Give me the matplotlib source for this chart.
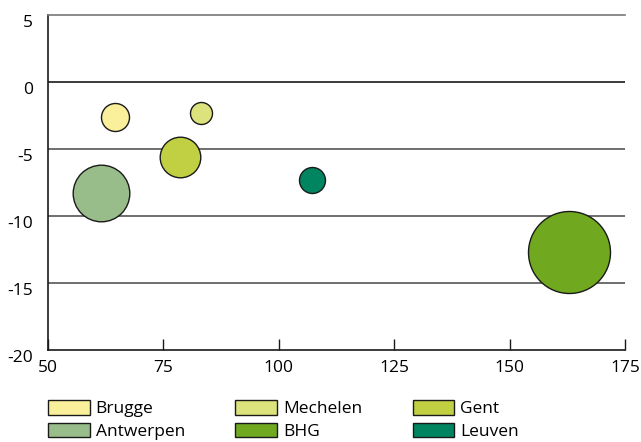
import matplotlib.pyplot as plt
import matplotlib.transforms as mtransforms
from matplotlib.patches import Patch

# Data
cities = ['Brugge', 'Mechelen', 'Gent', 'Antwerpen', 'BHG', 'Leuven']
x_vals = [64.5, 83.2, 78.6, 61.4, 162.9, 107.3]
y_vals = [-2.6, -2.35, -5.6, -8.25, -12.7, -7.3]
bubble_size = [196, 121, 412, 801, 1681, 169]   # relative bubble area
colors = ['#FAF09B', '#DDE37C', '#C0D042', '#99BD8A', '#70A81F', '#008560']

x_ticks = [50, 75, 100, 125, 150, 175]
y_ticks = [-20, -15, -10, -5, 0, 5]

plt.rcParams['font.family'] = ['Open Sans', 'DejaVu Sans']

fig = plt.figure(figsize=(6.41, 4.42), dpi=100)
ax = fig.add_axes([48 / 641, 92 / 442, 577 / 641, 335 / 442])

# Bubbles (size given as px^2 of radius, converted to pt^2 of diameter)
scale = (2 * 72 / 100) ** 2
for c, x, y, s, col in zip(cities, x_vals, y_vals, bubble_size, colors):
    ax.scatter(x, y, s=s * scale, color=col, edgecolor='#1a1a1a',
               linewidth=1.0, zorder=3)

# Axes limits and ticks
ax.set_xlim(50, 175)
ax.set_ylim(-20, 5)
ax.set_xticks(x_ticks)
ax.set_yticks(y_ticks)
ax.set_yticklabels([str(v) for v in y_ticks])

# Horizontal grid lines
for v in y_ticks[1:-1]:
    ax.axhline(v, color='#1a1a1a' if v == 0 else '#555555',
               lw=1.2, zorder=1)

ax.spines['right'].set_visible(False)
ax.spines['top'].set_color('#777777')
ax.spines['top'].set_linewidth(1.2)
ax.spines['left'].set_color('#1a1a1a')
ax.spines['bottom'].set_color('#1a1a1a')
ax.spines['left'].set_linewidth(1.2)
ax.spines['bottom'].set_linewidth(1.2)

ax.tick_params(axis='x', direction='in', length=8, width=1, color='#1a1a1a',
               pad=7, labelsize=12.5)
ax.tick_params(axis='y', length=0, pad=11, labelsize=12.5)

# Nudge y labels down slightly like the reference
offset = mtransforms.ScaledTranslation(0, -4 / 72, fig.dpi_scale_trans)
for lbl in ax.get_yticklabels():
    lbl.set_transform(lbl.get_transform() + offset)

# Legend below the plot
handles = [Patch(facecolor=col, edgecolor='#1a1a1a', linewidth=1.0, label=c)
           for c, col in zip(cities, colors)]
order = [0, 3, 1, 4, 2, 5]
fig.legend([handles[i] for i in order], [cities[i] for i in order],
           ncol=3, loc='center left', bbox_to_anchor=(48 / 641, 1 - 420 / 442),
           frameon=False, fontsize=12.5, handlelength=2.4, handleheight=0.9,
           handletextpad=0.35, columnspacing=2.9, labelspacing=0.3,
           borderpad=0.0, borderaxespad=0.0)

plt.savefig('out.png', dpi=100)
